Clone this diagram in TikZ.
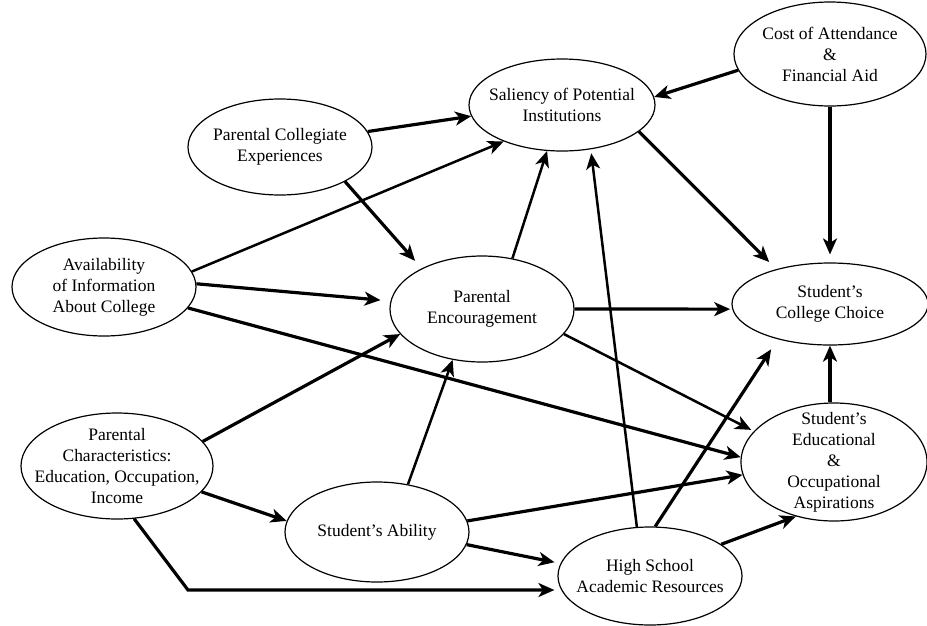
\documentclass[tikz,border=0pt]{standalone}
\usepackage{fontspec}
\setmainfont{Liberation Serif}
\usetikzlibrary{shapes.geometric,arrows.meta}

\begin{document}
\begin{tikzpicture}[x=1pt, y=-1pt,
    every node/.style={font=\fontsize{17.5}{21}\selectfont},
    factor/.style 2 args={ellipse, draw, line width=1.2pt, align=center,
      inner sep=-60pt, minimum width=#1, minimum height=#2},
    link/.style={line width=3.2pt, -{Stealth[length=16pt,width=14pt,inset=4.5pt]}},
    thinlink/.style={link, line width=2.5pt}]
  \useasboundingbox (0,0) rectangle (927,625);

  % Factors
  \node[factor={192pt}{104pt}] (cost) at (830,54) {Cost of Attendance\\\&\\Financial Aid};
  \node[factor={186pt}{92pt}] (sal) at (562,105) {Saliency of Potential\\Institutions};
  \node[factor={184pt}{96pt}] (pce) at (280,147) {Parental Collegiate\\Experiences};
  \node[factor={184pt}{98pt}] (avail) at (104,287) {Availability\\of Information\\About College};
  \node[factor={184pt}{106pt}] (penc) at (482,309) {Parental\\Encouragement};
  \node[factor={196pt}{82pt}] (choice) at (830,304) {Student's\\College Choice};
  \node[factor={186pt}{118pt}] (asp) at (834,462) {Student's\\Educational\\\&\\Occupational\\Aspirations};
  \node[factor={192pt}{106pt}] (pchar) at (117,466) {Parental\\Characteristics:\\Education, Occupation,\\Income};
  \node[factor={184pt}{100pt}] (ability) at (377,532) {Student's Ability};
  \node[factor={184pt}{98pt}] (hs) at (650,576) {High School\\Academic Resources};

  % Heavy paths
  \foreach \a/\b/\s in {cost.190/sal.5/0, cost.south/choice.north/8,
      pce.10/sal.187/0, pce.332/penc.146/10, avail.2/penc.175/10,
      avail.346/asp.177/0, penc.0/choice.183/2, sal.341/choice.147/10,
      pchar.16/penc.197/0, pchar.343/ability.173/0, ability.7/asp.188/0,
      ability.352/hs.172/6, hs.84/choice.214/12, hs.24/asp.235/0} {
    \draw[link, shorten >=\s pt] (\a) -- (\b);
  }
  \draw[link] (choice.south |- asp.north) -- (choice.south);
  \coordinate (bend) at (188,590);
  \draw[link, shorten >=3pt] (pchar.288) -- (bend) -- (bend -| hs.west);

  % Light paths
  \foreach \a/\b/\s in {avail.10/sal.212/0, penc.59/sal.252/0,
      penc.343/asp.159/3, ability.57/penc.240/0, hs.105/sal.303/4} {
    \draw[thinlink, shorten >=\s pt] (\a) -- (\b);
  }
\end{tikzpicture}
\end{document}
